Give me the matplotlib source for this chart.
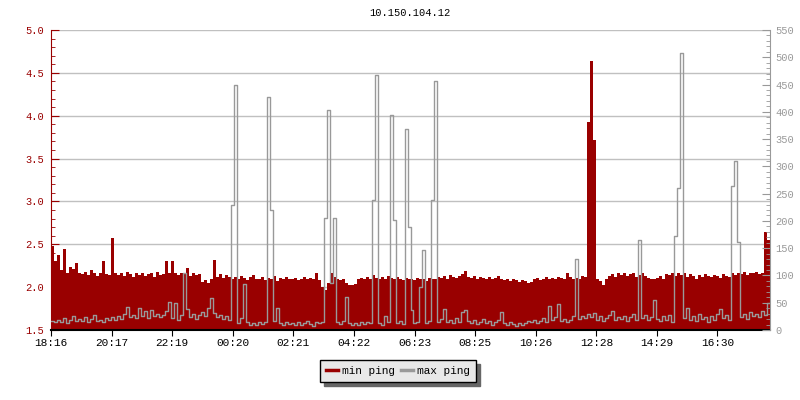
import numpy as np
import matplotlib.pyplot as plt
from matplotlib.lines import Line2D
from matplotlib.ticker import MultipleLocator

title = "10.150.104.12"
time_labels = ["18:16", "20:17", "22:19", "00:20", "02:21", "04:22",
               "06:23", "08:25", "10:26", "12:28", "14:29", "16:30"]
tick_step_min = 121.35
bin_minutes = 6

# min ping (left axis), one value per 6 minutes
min_ping = [
    2.48, 2.30, 2.38, 2.20, 2.44, 2.17, 2.23, 2.21, 2.28, 2.16,
    2.15, 2.18, 2.14, 2.20, 2.16, 2.13, 2.17, 2.30, 2.15, 2.14,
    2.57, 2.17, 2.14, 2.16, 2.13, 2.18, 2.15, 2.12, 2.16, 2.14,
    2.17, 2.13, 2.15, 2.16, 2.12, 2.18, 2.14, 2.15, 2.30, 2.17,
    2.30, 2.16, 2.14, 2.17, 2.15, 2.22, 2.13, 2.16, 2.14, 2.15,
    2.06, 2.08, 2.05, 2.10, 2.32, 2.12, 2.15, 2.11, 2.14, 2.12,
    2.10, 2.12, 2.09, 2.13, 2.11, 2.08, 2.12, 2.14, 2.10, 2.09,
    2.12, 2.08, 2.11, 2.10, 2.13, 2.07, 2.11, 2.09, 2.12, 2.10,
    2.09, 2.11, 2.08, 2.10, 2.12, 2.09, 2.11, 2.10, 2.16, 2.08,
    2.00, 1.97, 2.05, 2.16, 2.12, 2.10, 2.08, 2.09, 2.05, 2.03,
    2.02, 2.04, 2.10, 2.11, 2.09, 2.12, 2.10, 2.14, 2.11, 2.09,
    2.12, 2.10, 2.13, 2.11, 2.09, 2.12, 2.10, 2.08, 2.11, 2.09,
    2.10, 2.08, 2.11, 2.09, 2.10, 2.07, 2.11, 2.10, 2.09, 2.12,
    2.11, 2.13, 2.10, 2.14, 2.12, 2.11, 2.13, 2.15, 2.19, 2.12,
    2.11, 2.13, 2.10, 2.12, 2.11, 2.09, 2.12, 2.10, 2.11, 2.13,
    2.09, 2.08, 2.10, 2.07, 2.09, 2.08, 2.06, 2.08, 2.07, 2.05,
    2.06, 2.09, 2.11, 2.08, 2.10, 2.12, 2.09, 2.11, 2.10, 2.12,
    2.11, 2.10, 2.16, 2.12, 2.09, 2.11, 2.10, 2.13, 2.12, 3.93,
    4.64, 3.72, 2.09, 2.07, 2.02, 2.10, 2.13, 2.15, 2.12, 2.16,
    2.14, 2.17, 2.13, 2.15, 2.16, 2.12, 2.14, 2.17, 2.13, 2.11,
    2.10, 2.09, 2.11, 2.13, 2.10, 2.15, 2.14, 2.16, 2.13, 2.17,
    2.14, 2.16, 2.12, 2.15, 2.13, 2.10, 2.14, 2.12, 2.15, 2.13,
    2.12, 2.14, 2.13, 2.11, 2.15, 2.13, 2.12, 2.16, 2.14, 2.17,
    2.15, 2.18, 2.14, 2.17, 2.16, 2.18, 2.15, 2.17, 2.64, 2.55,
]

# max ping (right axis, ms), same 6 minute bins
max_ping = [
    17, 14, 19, 15, 22, 13, 18, 26, 16, 21,
    17, 24, 15, 20, 27, 16, 19, 14, 22, 18,
    23, 19, 26, 21, 30, 42, 24, 28, 22, 40,
    26, 34, 22, 37, 25, 30, 23, 28, 35, 51,
    22, 50, 19, 28, 105, 38, 24, 30, 21, 27,
    33, 25, 40, 59, 31, 24, 28, 20, 26, 18,
    229, 449, 12, 22, 84, 14, 10, 13, 9, 15,
    11, 14, 427, 220, 16, 40, 12, 9, 14, 11,
    13, 10, 15, 9, 12, 16, 11, 8, 14, 12,
    15, 205, 403, 86, 205, 14, 11, 16, 60, 12,
    10, 13, 9, 14, 11, 15, 12, 238, 467, 13,
    10, 26, 14, 394, 202, 12, 16, 11, 368, 189,
    37, 13, 15, 79, 147, 12, 16, 238, 456, 14,
    20, 38, 15, 18, 12, 22, 14, 33, 37, 16,
    13, 18, 11, 15, 20, 12, 17, 10, 14, 19,
    33, 12, 9, 14, 11, 8, 13, 10, 12, 16,
    14, 19, 13, 17, 22, 15, 44, 18, 24, 48,
    16, 21, 14, 19, 25, 130, 20, 26, 22, 30,
    24, 31, 19, 25, 17, 22, 28, 35, 18, 24,
    20, 26, 17, 23, 30, 19, 165, 22, 27, 18,
    24, 55, 21, 16, 25, 19, 28, 14, 172, 260,
    508, 22, 40, 18, 25, 16, 29, 20, 24, 15,
    26, 19, 30, 38, 22, 27, 18, 264, 310, 161,
    24, 29, 21, 33, 26, 30, 23, 35, 28, 50,
]

RED = "#990000"
GRAY = "#999999"
GRID = "#c0c0c0"

plt.rcParams['font.family'] = ['Liberation Mono', 'DejaVu Sans Mono']
plt.rcParams['font.size'] = 7.5

fig = plt.figure(figsize=(8, 4), dpi=100)
ax = fig.add_axes([51 / 800, 70 / 400, 719 / 800, 300 / 400])

t = np.arange(len(min_ping)) * bin_minutes
edges = np.append(t, t[-1] + bin_minutes)
vals = np.append(min_ping, min_ping[-1])
ax.fill_between(edges, 1.5, vals, step='post', color=RED, linewidth=0)

ax.set_xlim(0, 1440)
ax.set_ylim(1.5, 5.0)
ax.set_yticks(np.arange(1.5, 5.01, 0.5))
ax.yaxis.set_minor_locator(MultipleLocator(0.1))
ax.yaxis.grid(True, color=GRID, linewidth=1)
ax.set_axisbelow(True)
ax.tick_params(axis='y', which='both', direction='in', color=RED,
               labelcolor=RED, pad=5)
ax.tick_params(axis='y', which='major', length=6)
ax.tick_params(axis='y', which='minor', length=3)

ax.set_xticks([k * tick_step_min for k in range(len(time_labels))])
ax.set_xticklabels(time_labels)
ax.tick_params(axis='x', direction='out', length=4, color='black', pad=2,
               labelsize=8)

ax.spines['top'].set_visible(False)
ax.spines['right'].set_visible(False)
ax.spines['left'].set_color(RED)
ax.spines['bottom'].set_linewidth(1.5)

ax2 = ax.twinx()
max_vals = np.append(max_ping, max_ping[-1])
ax2.step(edges, max_vals, where='post', color=GRAY, linewidth=1)
ax2.set_ylim(0, 550)
ax2.set_yticks(np.arange(0, 551, 50))
ax2.yaxis.set_minor_locator(MultipleLocator(10))
ax2.tick_params(axis='y', which='both', direction='in', color=GRAY,
                labelcolor=GRAY, pad=4)
ax2.tick_params(axis='y', which='major', length=6)
ax2.tick_params(axis='y', which='minor', length=3)
for side in ['top', 'left', 'bottom']:
    ax2.spines[side].set_visible(False)
ax2.spines['right'].set_color(GRAY)

fig.text(410 / 800, 1 - 13 / 400, title, ha='center', va='center',
         color='black')

handles = [Line2D([], [], color=RED, linewidth=2.5),
           Line2D([], [], color=GRAY, linewidth=2.5)]
leg = fig.legend(handles, ["min ping", "max ping"], loc='center',
                 bbox_to_anchor=(398 / 800, 1 - 371 / 400), ncol=2,
                 fancybox=False, edgecolor='black', facecolor='#e8e8e8',
                 framealpha=1, handlelength=1.1, handletextpad=0.35,
                 columnspacing=0.5, borderpad=0.55, fontsize=8,
                 shadow={'ox': 3, 'oy': -3, 'facecolor': '#666666',
                         'edgecolor': '#666666', 'alpha': 1})
leg.get_frame().set_linewidth(1)

fig.savefig("out.png", dpi=100)
